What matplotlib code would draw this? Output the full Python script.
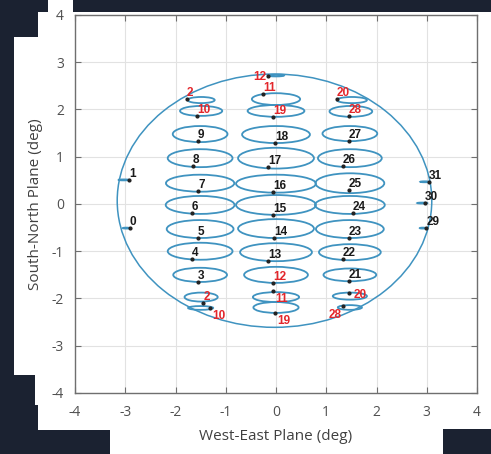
import matplotlib
matplotlib.use("Agg")
import matplotlib.pyplot as plt
from matplotlib.patches import Ellipse, Rectangle

# ---------------- data ----------------
beam_labels = ["2", "10", "9", "8", "7", "6", "5", "4", "3", "2", "10",
               "12", "11", "19", "18", "17", "16", "15", "14", "13", "12", "11", "19",
               "20", "28", "27", "26", "25", "24", "23", "22", "21", "20", "28",
               "1", "0", "31", "30", "29"]
beam_red = [1, 1, 0, 0, 0, 0, 0, 0, 0, 1, 1,
            1, 1, 1, 0, 0, 0, 0, 0, 0, 1, 1, 1,
            1, 1, 0, 0, 0, 0, 0, 0, 0, 1, 1,
            0, 0, 0, 0, 0]
# beam marker positions (deg)
dot_x = [-1.77, -1.57, -1.55, -1.65, -1.55, -1.67, -1.55, -1.67, -1.55, -1.45, -1.31,
         -0.16, -0.26, -0.06, -0.02, -0.16, -0.06, -0.06, -0.04, -0.16, -0.06, -0.06, -0.02,
         1.21, 1.45, 1.45, 1.33, 1.45, 1.53, 1.45, 1.33, 1.45, 1.45, 1.33,
         -2.93, -2.91, 3.05, 2.97, 2.99]
dot_y = [2.22, 1.86, 1.33, 0.80, 0.28, -0.19, -0.72, -1.16, -1.65, -2.10, -2.20,
         2.71, 2.33, 1.84, 1.29, 0.78, 0.25, -0.23, -0.72, -1.21, -1.67, -1.84, -2.31,
         2.22, 1.86, 1.33, 0.80, 0.30, -0.19, -0.72, -1.16, -1.63, -1.88, -2.16,
         0.51, -0.51, 0.47, 0.02, -0.51]
# footprint contours: centre, width, height (deg)
foot_cx = [-1.49, -1.49, -1.51, -1.51, -1.51, -1.51, -1.51, -1.51, -1.51, -1.49, -1.50,
           0.0, 0.0, 0.0, 0.0, 0.0, 0.0, 0.0, 0.0, 0.0, 0.0, 0.0, 0.0,
           1.51, 1.49, 1.47, 1.47, 1.47, 1.47, 1.47, 1.47, 1.47, 1.47, 1.47,
           -3.03, -2.98, 2.96, 2.91, 2.92]
foot_cy = [2.20, 1.97, 1.48, 0.97, 0.44, -0.02, -0.53, -1.00, -1.50, -1.97, -2.20,
           2.72, 2.22, 1.97, 1.47, 0.97, 0.43, -0.02, -0.52, -1.02, -1.50, -1.97, -2.19,
           2.20, 1.96, 1.49, 0.97, 0.44, -0.02, -0.53, -1.02, -1.50, -1.95, -2.19,
           0.51, -0.51, 0.47, 0.02, -0.51]
foot_w = [0.54, 0.84, 1.09, 1.29, 1.36, 1.37, 1.33, 1.29, 1.07, 0.66, 0.50,
          0.32, 0.96, 1.13, 1.35, 1.51, 1.59, 1.59, 1.51, 1.43, 1.27, 0.92, 0.90,
          0.60, 0.85, 1.09, 1.27, 1.37, 1.39, 1.35, 1.23, 1.05, 0.68, 0.48,
          0.22, 0.14, 0.18, 0.20, 0.12]
foot_h = [0.13, 0.21, 0.34, 0.38, 0.36, 0.38, 0.38, 0.36, 0.30, 0.19, 0.08,
          0.04, 0.25, 0.25, 0.36, 0.44, 0.38, 0.42, 0.40, 0.38, 0.34, 0.21, 0.23,
          0.13, 0.23, 0.32, 0.38, 0.42, 0.38, 0.38, 0.34, 0.27, 0.15, 0.10,
          0.02, 0.02, 0.02, 0.02, 0.02]
# coverage boundary
cover_cx, cover_cy, cover_w, cover_h = -0.03, 0.07, 6.26, 5.36

x_ticks = [-4, -3, -2, -1, 0, 1, 2, 3, 4]
y_ticks = [-4, -3, -2, -1, 0, 1, 2, 3, 4]

# label placement style per beam
label_place = ["std"] * 10 + ["below"] + \
              ["left"] + ["std"] * 9 + ["below", "below"] + \
              ["std"] * 9 + ["right", "lowleft"] + \
              ["std"] * 5

# ---------------- figure ----------------
W, H = 491, 454
fig = plt.figure(figsize=(W / 100, H / 100), dpi=100)
fig.patch.set_facecolor("white")

dark = "#1b2231"
def px_rect(x0, y0, x1, y1):
    fig.patches.append(Rectangle((x0 / W, 1 - y1 / H), (x1 - x0) / W, (y1 - y0) / H,
                                 transform=fig.transFigure, facecolor=dark,
                                 edgecolor="none", zorder=-10))
px_rect(0, 0, 48, 12)
px_rect(73, 0, W, 12)
px_rect(0, 0, 38, 37)
px_rect(0, 37, 14, 375)
px_rect(0, 375, 35, 405)
px_rect(0, 405, 38, 430)
px_rect(0, 430, 110, H)
px_rect(443, 429, W, H)

ax = fig.add_axes([75 / W, 1 - 393 / H, (477 - 75) / W, (393 - 15) / H])
ax.set_xlim(-4, 4)
ax.set_ylim(-4, 4)
ax.set_xticks(x_ticks)
ax.set_yticks(y_ticks)
ax.set_xticklabels([str(t) for t in x_ticks])
ax.set_yticklabels([str(t) for t in y_ticks])
ax.grid(True, color="#e2e2e2", linewidth=0.8)
ax.set_axisbelow(True)
for s in ax.spines.values():
    s.set_color("#6f6f6f")
    s.set_linewidth(1.0)
ax.tick_params(direction="in", length=4, width=0.8, color="#6f6f6f",
               top=True, right=True, labelsize=10, labelcolor="#505050")
ax.tick_params(axis="x", pad=9)
ax.tick_params(axis="y", pad=8)

font_fam = ["Open Sans", "DejaVu Sans"]
for lbl in ax.get_xticklabels() + ax.get_yticklabels():
    lbl.set_family(font_fam)

ax.set_xlabel("West-East Plane (deg)", fontsize=11, color="#404040",
              family=font_fam, labelpad=6)
ax.set_ylabel("South-North Plane (deg)", fontsize=11, color="#404040",
              family=font_fam, labelpad=6)

line_col = "#3f93c0"
ax.add_patch(Ellipse((cover_cx, cover_cy), cover_w, cover_h, fill=False,
                     edgecolor=line_col, linewidth=1.1, zorder=2))
for cx, cy, w, h in zip(foot_cx, foot_cy, foot_w, foot_h):
    ax.add_patch(Ellipse((cx, cy), w, h, fill=False, edgecolor=line_col,
                         linewidth=1.3, zorder=3))

ax.plot(dot_x, dot_y, "o", color="#222222", markersize=2.0, zorder=4, linestyle="none")

pt = 0.72  # points per pixel at 100 dpi
place = {
    "std": dict(ha="left", va="baseline", off=(0, 3)),
    "below": dict(ha="left", va="top", off=(2, -2)),
    "left": dict(ha="right", va="center", off=(-2, -1)),
    "right": dict(ha="left", va="center", off=(5, -2)),
    "lowleft": dict(ha="right", va="top", off=(-1, -3)),
}
for x, y, t, r, p in zip(dot_x, dot_y, beam_labels, beam_red, label_place):
    spec = place[p]
    ax.annotate(t, (x, y), xytext=(spec["off"][0] * pt, spec["off"][1] * pt),
                textcoords="offset points", ha=spec["ha"], va=spec["va"],
                fontsize=8.5, fontweight="bold", family=["Liberation Sans", "DejaVu Sans"],
                color="#e3262b" if r else "#1a1a1a", zorder=5)

fig.savefig("out.png", dpi=100)
